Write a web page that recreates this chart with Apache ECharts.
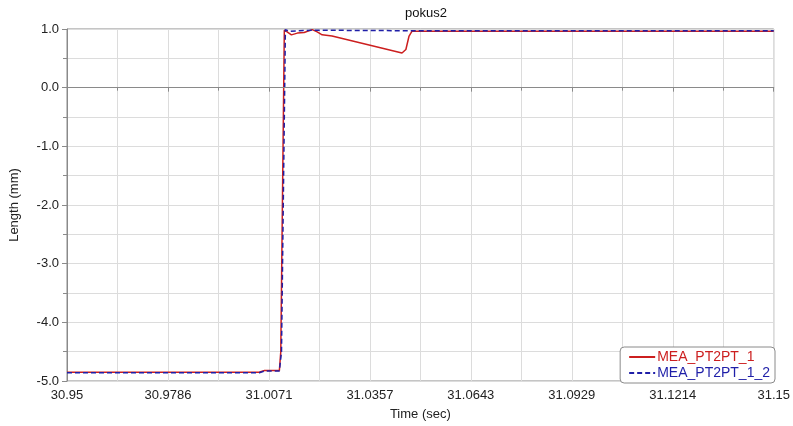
<!DOCTYPE html>
<html>
<head>
<meta charset="utf-8">
<script src="https://cdn.jsdelivr.net/npm/echarts@6/dist/echarts.min.js"></script>
<style>html,body{margin:0;padding:0;background:#fff;}#c{width:793px;height:426px;}</style>
</head>
<body>
<div id="c"></div>
<script>
var chartTitle = 'pokus2';
var xTickLabels = ['30.95','30.9786','31.0071','31.0357','31.0643','31.0929','31.1214','31.15'];
var yTickLabels = ['-5.0','-4.0','-3.0','-2.0','-1.0','0.0','1.0'];
var timeStart = 30.95;
var timeEnd = 31.15;

var redTimes  = [30.95, 31.0044, 31.0059, 31.0101, 31.0105, 31.0115, 31.0123, 31.0135, 31.0152, 31.0171, 31.0194, 31.0208, 31.0222, 31.0250, 31.0448, 31.0459, 31.0468, 31.0476, 31.15];
var redValues = [-4.85, -4.85, -4.82, -4.82, -4.5, 0.98, 0.95, 0.90, 0.93, 0.94, 0.99, 0.95, 0.90, 0.88, 0.59, 0.65, 0.88, 0.96, 0.96];

var blueTimes  = [30.95, 31.0044, 31.0059, 31.0101, 31.0107, 31.0118, 31.0129, 31.0194, 31.0473, 31.15];
var blueValues = [-4.86, -4.86, -4.83, -4.83, -4.5, 0.99, 0.96, 0.98, 0.97, 0.97];

var majorStep = (timeEnd - timeStart) / 7;

function pairs(ts, vs) {
  return ts.map(function (t, i) { return [t - timeStart, vs[i]]; });
}

var chart = echarts.init(document.getElementById('c'));
var font = 'Liberation Sans, Arial, sans-serif';
chart.setOption({
  animation: false,
  backgroundColor: '#fff',
  textStyle: { fontFamily: font },
  title: {
    text: chartTitle, left: 421, top: 2, textAlign: 'center',
    textStyle: { fontSize: 13, fontWeight: 'normal', color: '#111', fontFamily: font }
  },
  grid: { left: 67, right: 17, top: 29, bottom: 42, show: true, borderColor: '#8a8a8a', borderWidth: 1 },
  legend: {
    orient: 'vertical', right: 18, bottom: 43,
    backgroundColor: '#fff', borderColor: '#8a8a8a', borderWidth: 1, borderRadius: 4,
    padding: [3, 5, 3, 8], itemGap: 2, itemWidth: 26, itemHeight: 12,
    itemStyle: { opacity: 0 },
    textStyle: { fontSize: 14, fontFamily: font, padding: [0, 0, 0, -3] },
    data: [
      { name: 'MEA_PT2PT_1', textStyle: { color: '#cc1f1f' } },
      { name: 'MEA_PT2PT_1_2', textStyle: { color: '#1f1fa8' } }
    ]
  },
  xAxis: {
    type: 'value', min: 0, max: timeEnd - timeStart, interval: majorStep,
    name: 'Time (sec)', nameLocation: 'middle', nameGap: 27,
    nameTextStyle: { fontSize: 13, color: '#222', fontFamily: font },
    axisLine: { show: true, lineStyle: { color: '#8a8a8a' } },
    axisTick: { show: true, length: 4, lineStyle: { color: '#8a8a8a' } },
    minorTick: { show: true, splitNumber: 2, length: 3, lineStyle: { color: '#8a8a8a' } },
    axisLabel: {
      fontSize: 13, color: '#222', margin: 8, fontFamily: font,
      formatter: function (v) { return xTickLabels[Math.round(v / majorStep)] || ''; }
    },
    splitLine: { show: true, lineStyle: { color: '#dcdcdc' } },
    minorSplitLine: { show: true, lineStyle: { color: '#dcdcdc' } }
  },
  yAxis: {
    type: 'value', min: -5, max: 1, interval: 1,
    name: 'Length (mm)', nameLocation: 'middle', nameGap: 46, nameRotate: 90,
    nameTextStyle: { fontSize: 13, color: '#222', fontFamily: font },
    axisLine: { show: true, lineStyle: { color: '#8a8a8a' } },
    axisTick: { show: true, length: 5, lineStyle: { color: '#8a8a8a' } },
    minorTick: { show: true, splitNumber: 2, length: 4, lineStyle: { color: '#8a8a8a' } },
    axisLabel: {
      fontSize: 13, color: '#222', margin: 8, fontFamily: font,
      formatter: function (v) { return yTickLabels[Math.round(v + 5)] || ''; }
    },
    splitLine: { show: true, lineStyle: { color: '#dcdcdc' } },
    minorSplitLine: { show: true, lineStyle: { color: '#dcdcdc' } }
  },
  series: [
    {
      name: 'MEA_PT2PT_1', type: 'line', symbol: 'none', z: 3,
      data: pairs(redTimes, redValues),
      lineStyle: { color: '#cc1f1f', width: 1.5 }, itemStyle: { color: '#cc1f1f' },
      markLine: {
        silent: true, symbol: 'none', label: { show: false },
        lineStyle: { color: '#8a8a8a', type: 'solid', width: 1 },
        data: [{ yAxis: 0 }]
      }
    },
    {
      name: 'MEA_PT2PT_1_2', type: 'line', symbol: 'none', z: 4,
      data: pairs(blueTimes, blueValues),
      lineStyle: { color: '#1f1fa8', width: 1.5, type: [5, 3] }, itemStyle: { color: '#1f1fa8' }
    }
  ]
});
</script>
</body>
</html>
